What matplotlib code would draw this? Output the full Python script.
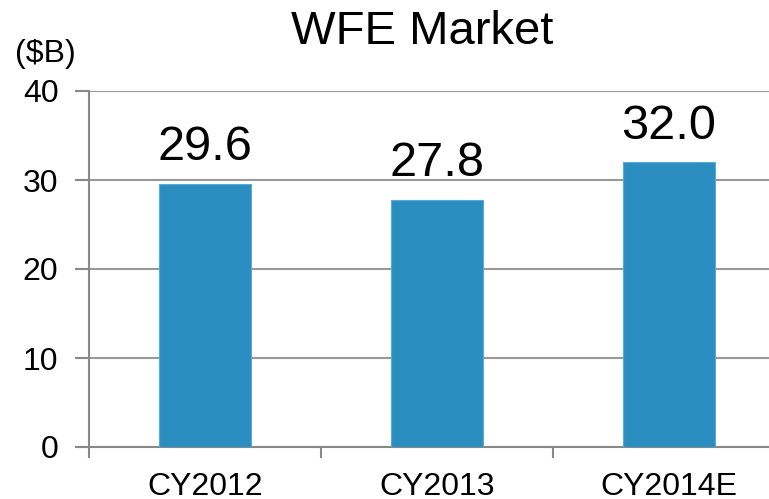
import matplotlib
matplotlib.use("Agg")
from matplotlib import pyplot as plt

# data
years = ['CY2012', 'CY2013', 'CY2014E']
wfe = [29.6, 27.8, 32.0]
yticks = [0, 10, 20, 30, 40]

plt.rcParams['font.family'] = ['Liberation Sans', 'DejaVu Sans']

fig = plt.figure(figsize=(7.69, 4.99), dpi=100)
ax = fig.add_axes([89/769, 52/499, 696/769, 356/499])

x = range(len(years))
ax.bar(x, wfe, width=0.4, color='#2a8fc0', edgecolor='#5aaad4', linewidth=0.8, zorder=3)
for i, v in enumerate(wfe):
    ax.text(i, v + 1.5, f'{v:.1f}', ha='center', va='bottom', fontsize=35)

ax.set_xlim(-0.5, len(years) - 0.5)
ax.set_ylim(0, 40)
ax.set_yticks(yticks)
ax.set_yticklabels([str(t) for t in yticks], fontsize=23)
ax.set_xticks(list(x))
ax.set_xticklabels(years, fontsize=23)
ax.tick_params(axis='x', length=0, pad=18)
ax.tick_params(axis='y', length=10, width=1.5, color='#888888', pad=12)
# minor ticks on x at category boundaries
ax.set_xticks([i + 0.5 for i in range(-1, len(years))], minor=True)
ax.tick_params(axis='x', which='minor', length=8, width=1.5, color='#888888')

ax.grid(axis='y', color='#999999', linewidth=1.5, zorder=0)
for s in ['top', 'right']:
    ax.spines[s].set_visible(False)
for s in ['left', 'bottom']:
    ax.spines[s].set_color('#888888')
    ax.spines[s].set_linewidth(1.5)

fig.text(422/769, 1 - 32/499, 'WFE Market', ha='center', va='center', fontsize=34)
fig.text(45/769, 1 - 54/499, '($B)', ha='center', va='center', fontsize=23)

plt.savefig('out.png', dpi=100)
